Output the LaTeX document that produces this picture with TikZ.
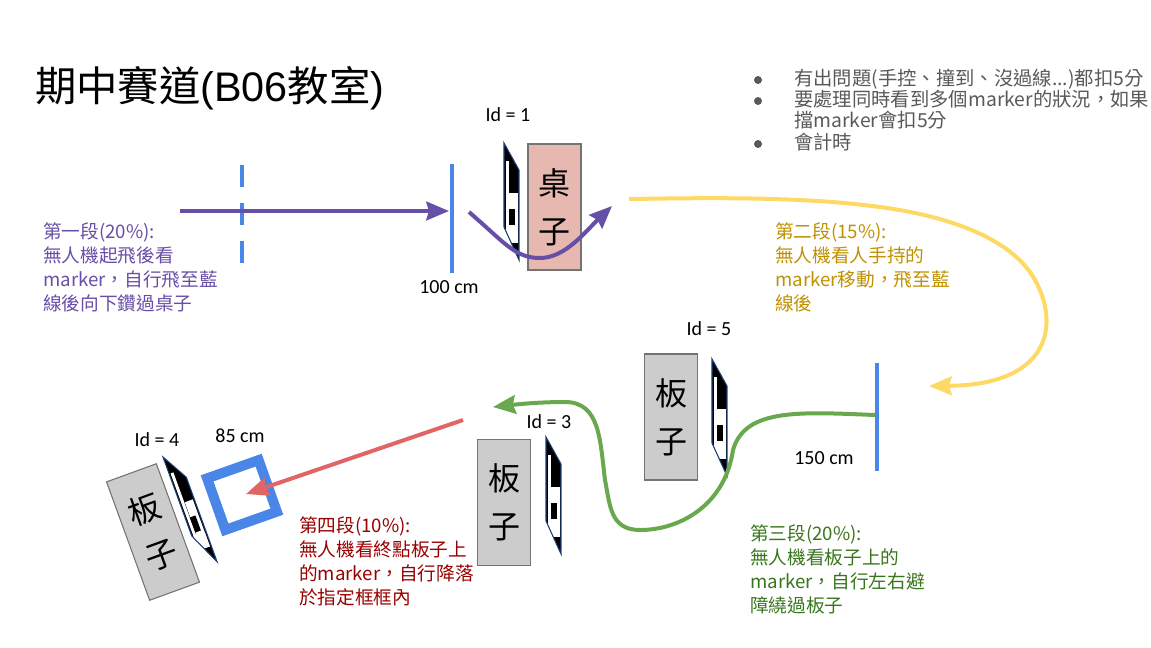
\documentclass[tikz,border=0pt]{standalone}
\usepackage{fontspec}
\setmainfont{Carlito}
\newfontfamily\cjkfont{Noto Sans CJK TC}
\newfontfamily\titlefont{Liberation Sans}
\usetikzlibrary{arrows.meta,positioning}

\definecolor{barblue}{HTML}{4A86E8}
\definecolor{pathpurple}{HTML}{674EA7}
\definecolor{pathyellow}{HTML}{FFD966}
\definecolor{pathgreen}{HTML}{6AA84F}
\definecolor{pathred}{HTML}{E06666}
\definecolor{textyellow}{HTML}{BF9000}
\definecolor{textgreen}{HTML}{38761D}
\definecolor{textred}{HTML}{990000}
\definecolor{textgray}{HTML}{595959}
\definecolor{tablepink}{HTML}{E6B8AF}
\definecolor{boardgray}{HTML}{CCCCCC}
\definecolor{markerblue}{HTML}{1C3F78}

\tikzset{
    markerpic/.pic = {
        \begin{scope}
            \clip (0,0) -- (15,27) -- (15,117) -- (0,84) -- cycle;
            \fill[black] (0,0) rectangle (15,117);
            \fill[white] (1.5,18) rectangle (4.5,92);
            \fill[white] (5,50) rectangle (13.5,100);
            \fill[black] (4.5,66) rectangle (10.5,82);
            \fill[white] (1.5,84) rectangle (13.5,100);
        \end{scope}
        \draw[markerblue,line width=.8pt] (0,0) -- (15,27) -- (15,117) -- (0,84) -- cycle;
    }
}

\begin{document}
\begin{tikzpicture}[
        x = .75pt, y = -.75pt,
        > = {Stealth[length=17pt,width=14pt,inset=2pt]},
        track/.style = {line width=3pt,->},
        bar/.style = {barblue,line width=3pt},
        thing/.style = {shape=rectangle,draw=black!55,line width=.8pt,
            minimum width=39.75pt,minimum height=94.5pt,inner sep=0pt,
            align=center,font=\cjkfont\fontsize{24}{36}\selectfont},
        board/.style = {thing,fill=boardgray},
        idlabel/.style = {font=\fontsize{15}{18}\selectfont,inner sep=0pt},
        note/.style = {anchor=north west,align=left,inner sep=0pt,
            font=\cjkfont\fontsize{14}{18}\selectfont},
        bullet/.style = {shape=circle,fill=textgray,minimum size=6pt,inner sep=0pt}
    ]
    \useasboundingbox (0,0) rectangle (1151,647);

    % title and rules
    \node[anchor=west,inner sep=0pt] (title) at (35,88)
        {\fontsize{31}{36}\selectfont\cjkfont 期中賽道\titlefont (B06\cjkfont 教室\titlefont )};
    \node[bullet] (b1) at (758,80)  {};
    \node[bullet] (b2) at (758,101) {};
    \node[bullet] (b3) at (758,144) {};
    \begin{scope}[every node/.style={note,text=textgray,font=\cjkfont\fontsize{14.5}{16}\selectfont}]
        \node (r1) at (794,69)  {有出問題(手控、撞到、沒過線...)都扣5分};
        \node (r2) at (794,90)  {要處理同時看到多個marker的狀況，如果\\擋marker會扣5分};
        \node (r3) at (794,133) {會計時};
    \end{scope}

    % table and boards
    \node[thing,fill=tablepink] (table) at (554.5,207) {桌\\子};
    \node[board] (board5) at (671,417) {板\\子};
    \node[board] (board3) at (504,502.5) {板\\子};
    \node[board,rotate=20] (board4) at (153,532) {\rotatebox{0}{板}\\\rotatebox{0}{子}};
    \node[shape=rectangle,draw=barblue,line width=7.5pt,minimum size=41pt,rotate=19.5] (frame) at (242,495) {};

    % markers
    \pic at (504,143) {markerpic};
    \pic at (712,359) {markerpic};
    \pic at (546,437) {markerpic};
    \pic[rotate=20] at (163,457) {markerpic};

    % ids and distances
    \node[idlabel] (id1) at (508,115) {Id = 1};
    \node[idlabel] (id5) at (709,329) {Id = 5};
    \node[idlabel] (id3) at (549,422) {Id = 3};
    \node[idlabel] (id4) at (157,440) {Id = 4};
    \node[idlabel] (d85) at (240,436) {85 cm};
    \node[idlabel] (d100) at (449,287) {100 cm};
    \node[idlabel] (d150) at (824,458) {150 cm};

    % blue bars
    \coordinate (dashtop) at (242,165);
    \coordinate (dashbot) at (242,272);
    \coordinate (bar1top) at (452,164);
    \coordinate (bar1bot) at (452,273);
    \coordinate (bar2top) at (877,363);
    \coordinate (bar2bot) at (877,471);
    \draw[bar,dash pattern=on 16.5pt off 12pt] (dashtop) -- (dashbot);
    \draw[bar] (bar1top) -- (bar1bot);
    \draw[bar] (bar2top) -- (bar2bot);

    % tracks
    \coordinate (p1s) at (180,211);
    \coordinate (p1e) at (449,211);
    \coordinate (p2s) at (469,212);
    \coordinate (p2e) at (612,206);
    \coordinate (ys)  at (629,199);
    \coordinate (ye)  at (929,386);
    \coordinate (gs)  at (875,415);
    \coordinate (ge)  at (493,407);
    \coordinate (rs)  at (463,420);
    \coordinate (re)  at (246,494);
    \draw[track,pathpurple] (p1s) -- (p1e);
    \draw[track,pathpurple] (p2s) .. controls (505,243) and (515,258) .. (540,258)
        .. controls (565,258) and (585,232) .. (p2e);
    \draw[track,pathyellow] (ys) .. controls (700,198) and (800,196) .. (880,207)
        .. controls (940,215) and (1010,235) .. (1035,280)
        .. controls (1060,325) and (1050,385) .. (ye);
    \draw[track,pathgreen] (gs) .. controls (800,412) and (745,408) .. (733,450)
        .. controls (725,505) and (680,530) .. (640,530)
        .. controls (610,530) and (610,505) .. (605,480)
        .. controls (600,440) and (600,402) .. (565,402)
        .. controls (540,402) and (520,404) .. (ge);
    \draw[track,pathred] (rs) -- (re);

    % segment notes
    \node[note,text=pathpurple] (seg1) at (43,222) {第一段(20\%):\\無人機起飛後看\\marker，自行飛至藍\\線後向下鑽過桌子};
    \node[note,text=textyellow] (seg2) at (775,222) {第二段(15\%):\\無人機看人手持的\\marker移動，飛至藍\\線後};
    \node[note,text=textgreen] (seg3) at (750,524) {第三段(20\%):\\無人機看板子上的\\marker，自行左右避\\障繞過板子};
    \node[note,text=textred] (seg4) at (299,516) {第四段(10\%):\\無人機看終點板子上\\的marker，自行降落\\於指定框框內};
\end{tikzpicture}
\end{document}
